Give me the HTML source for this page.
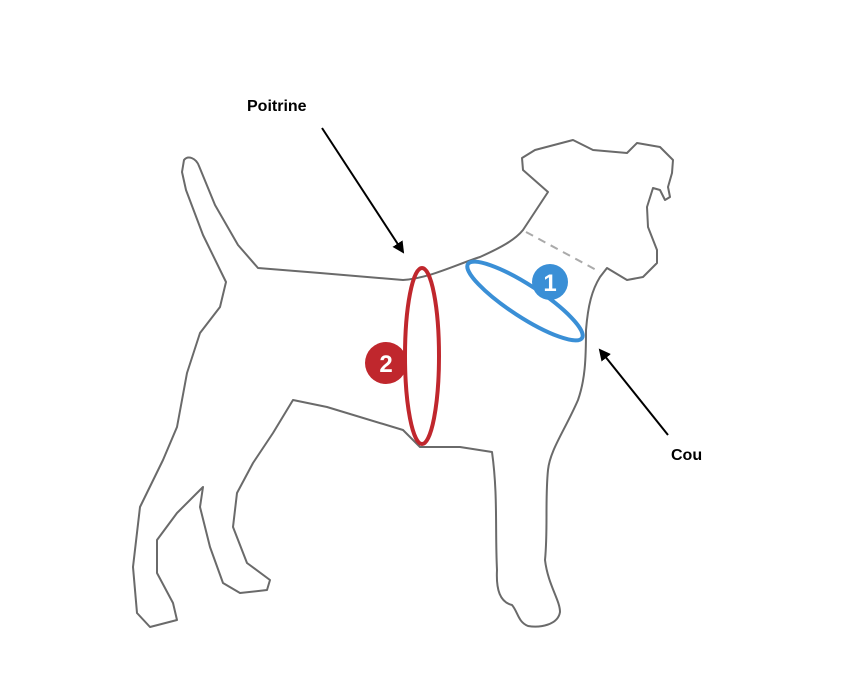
<!DOCTYPE html>
<html><head><style>
body{margin:0;background:#fff;width:866px;height:674px;overflow:hidden}
svg{position:absolute;left:0;top:0}
text{font-family:"Liberation Sans",sans-serif;font-weight:bold}
</style></head><body>
<svg width="866" height="674" viewBox="0 0 866 674">
<defs><marker id="a" markerWidth="12" markerHeight="12" refX="10" refY="6" orient="auto" markerUnits="userSpaceOnUse"><path d="M0,0 L12,6 L0,12 z" fill="#000"/></marker></defs>
<path fill="none" stroke="#6a6a6a" stroke-width="2" stroke-linejoin="round" d="
M184,160 C188,155 196,158 199,166 L215,205 L238,245 L258,268 L320,273 L403,280
C430,278 455,265 480,257 C500,248 515,240 523,230 L548,192 L523,170 L522,158 L535,150 L573,140 L587,147 L593,150 L627,153 L637,143 L660,147 L673,160 L672,173 L668,187 L670,197 L665,200 L660,190 L653,188 L647,207 L648,227 L657,250 L657,263 L643,277 L627,280 L607,268 L600,277
C592,290 588,305 586,330 C586,360 585,380 578,400 C565,430 550,450 548,470 C545,500 548,530 545,560 C548,585 560,600 560,612 C558,625 540,628 528,626 C518,622 518,612 512,605 C500,602 496,590 497,570 C495,530 498,495 492,452 L460,447 L420,447
L403,430 L327,407 L293,400 L273,433 L253,463 L237,493 L233,527 L247,563 L270,580 L267,590 L240,593 L223,583 L210,547 L200,507 L203,487 L177,513 L157,540 L157,573 L173,603 L177,620 L150,627 L137,613 L133,567 L140,507 L163,460 L177,427 L187,373 L200,333 L220,307 L226,282 L203,235 L186,190 L182,172 Z"/>
<line x1="526" y1="232" x2="600" y2="272" stroke="#aaa" stroke-width="2" stroke-dasharray="8,6"/>
<ellipse cx="422" cy="356" rx="17" ry="88" fill="none" stroke="#c0272d" stroke-width="4"/>
<ellipse cx="525" cy="301" rx="68" ry="16" transform="rotate(33 525 301)" fill="none" stroke="#3a8fd6" stroke-width="4"/>
<circle cx="550" cy="282" r="18" fill="#3a8fd6"/>
<text x="550" y="291" font-size="24" fill="#fff" text-anchor="middle">1</text>
<circle cx="386" cy="363" r="21" fill="#c0272d"/>
<text x="386" y="372" font-size="24" fill="#fff" text-anchor="middle">2</text>
<line x1="322" y1="128" x2="403" y2="252" stroke="#000" stroke-width="2" marker-end="url(#a)"/>
<line x1="668" y1="435" x2="600" y2="350" stroke="#000" stroke-width="2" marker-end="url(#a)"/>
<text x="247" y="111" font-size="16" fill="#000">Poitrine</text>
<text x="671" y="460" font-size="16" fill="#000">Cou</text>
</svg>
</body></html>
